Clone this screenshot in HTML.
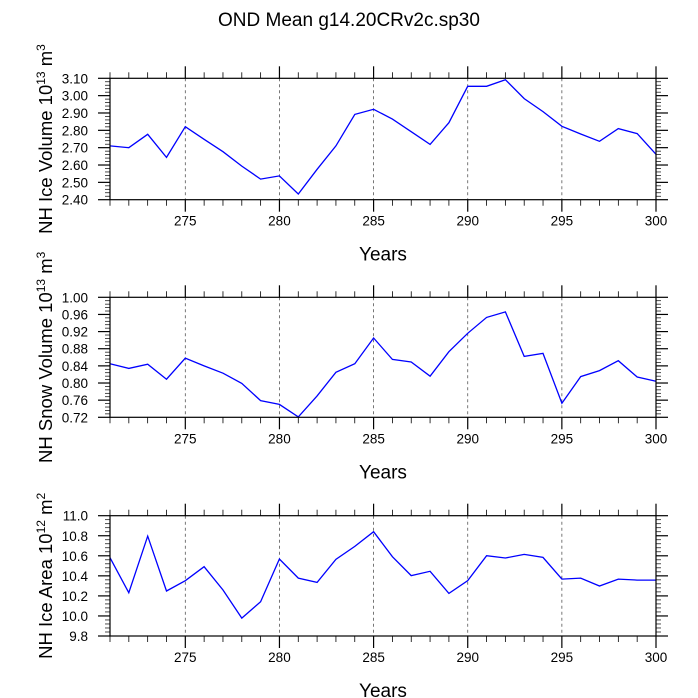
<!DOCTYPE html>
<html><head><meta charset="utf-8"><style>
body{margin:0;background:#fff}
svg{display:block;font-family:"Liberation Sans",Arial,sans-serif}
</style></head><body>
<svg id="c" width="698" height="698" viewBox="0 0 698 698">
<text x="349" y="26" text-anchor="middle" font-size="19">OND Mean g14.20CRv2c.sp30</text>
</svg>
<script>
const years = [271,272,273,274,275,276,277,278,279,280,281,282,283,284,285,286,287,288,289,290,291,292,293,294,295,296,297,298,299,300];
const iceVolume = [2.710,2.700,2.777,2.644,2.821,2.748,2.677,2.594,2.519,2.537,2.433,2.575,2.710,2.892,2.921,2.865,2.792,2.719,2.844,3.054,3.054,3.092,2.983,2.908,2.823,2.779,2.737,2.810,2.781,2.662];
const snowVolume = [0.845,0.834,0.844,0.809,0.858,0.840,0.823,0.799,0.759,0.750,0.721,0.770,0.825,0.845,0.905,0.855,0.849,0.816,0.873,0.916,0.953,0.966,0.862,0.869,0.753,0.815,0.829,0.852,0.814,0.804];
const iceArea = [10.581,10.232,10.797,10.249,10.352,10.491,10.259,9.979,10.142,10.568,10.378,10.335,10.565,10.694,10.840,10.591,10.402,10.445,10.225,10.352,10.601,10.578,10.614,10.584,10.368,10.378,10.299,10.368,10.358,10.358];
const xTicks = [275,280,285,290,295,300];
const iceVolTicks = ["3.10","3.00","2.90","2.80","2.70","2.60","2.50","2.40"];
const snowVolTicks = ["1.00","0.96","0.92","0.88","0.84","0.80","0.76","0.72"];
const iceAreaTicks = ["11.0","10.8","10.6","10.4","10.2","10.0","9.8"];

const svg = document.getElementById('c');
const NS = 'http://www.w3.org/2000/svg';
function mk(tag, attrs, parent){const e=document.createElementNS(NS,tag);for(const k in attrs)e.setAttribute(k,attrs[k]);(parent||svg).appendChild(e);return e;}
const L=110, R=656, X0=271, X1=300;
const xs = v => L + (v-X0)/(X1-X0)*(R-L);

function panel(name, top, bot, vals, ticks, ymin, ymax, minorStep, titleMain, exp, unit){
  const g = mk('g',{});
  
  
  const ys = v => bot - (v-ymin)/(ymax-ymin)*(bot-top);
  xTicks.slice(0,-1).forEach(t=>{
    const l = mk('line',{x1:xs(t),x2:xs(t),y1:top,y2:bot,stroke:'#555','stroke-width':0.8,'stroke-dasharray':'3,3'},g);
    
    
  });
  for(let y=X0;y<=X1;y++){
    const major = y%5===0;
    const len = major?12:6;
    mk('line',{x1:xs(y),x2:xs(y),y1:top,y2:top-len,stroke:'#000','stroke-width':major?1.2:0.8},g);
    mk('line',{x1:xs(y),x2:xs(y),y1:bot,y2:bot+len,stroke:'#000','stroke-width':major?1.2:0.8},g);
  }
  const n = Math.round((ymax-ymin)/minorStep);
  for(let i=0;i<=n;i++){
    const v = ymin + i*minorStep;
    const major = i%5===0;
    const len = major?12:5;
    const yy = ys(v);
    mk('line',{x1:L,x2:L-len,y1:yy,y2:yy,stroke:'#000','stroke-width':major?1.2:0.7},g);
    mk('line',{x1:R,x2:R+len,y1:yy,y2:yy,stroke:'#000','stroke-width':major?1.2:0.7},g);
  }
  ticks.forEach(t=>{
    const tx = mk('text',{x:88,y:ys(parseFloat(t))+5,'text-anchor':'end','font-size':13.5},g);
    tx.textContent = t;
    
    
  });
  xTicks.forEach(t=>{
    const tx = mk('text',{x:xs(t),y:bot+26,'text-anchor':'middle','font-size':13.5},g);
    tx.textContent = t;
    
    
  });
  const xt = mk('text',{x:(L+R)/2,y:bot+61,'text-anchor':'middle','font-size':19},g);
  xt.textContent = 'Years';
  
  
  const cy = (top+bot)/2;
  const yt = mk('text',{x:0,y:0,'text-anchor':'middle','font-size':18.5,transform:`translate(52,${cy}) rotate(-90)`},g);
  
  
  const t1 = mk('tspan',{},yt); t1.textContent = titleMain+' 10';
  const t2 = mk('tspan',{dy:-7,'font-size':12},yt); t2.textContent = exp;
  const t3 = mk('tspan',{dy:7},yt); t3.textContent = ' m';
  const t4 = mk('tspan',{dy:-7,'font-size':12},yt); t4.textContent = unit;
  const pts = vals.map((v,i)=>xs(years[i]).toFixed(1)+','+ys(v).toFixed(1)).join(' ');
  const pl = mk('polyline',{points:pts,fill:'none',stroke:'#0000ff','stroke-width':1.3},g);
  
  
  const fr = mk('rect',{x:L,y:top,width:R-L,height:bot-top,fill:'none',stroke:'#000','stroke-width':1.2},g);
  
  
}
panel('ice-volume',78.3,199.7,iceVolume,iceVolTicks,2.40,3.10,0.02,'NH Ice Volume','13','3');
panel('snow-volume',297.3,417.3,snowVolume,snowVolTicks,0.72,1.00,0.008,'NH Snow Volume','13','3');
panel('ice-area',515.7,636,iceArea,iceAreaTicks,9.8,11.0,0.04,'NH Ice Area','12','2');
</script>
</body></html>
